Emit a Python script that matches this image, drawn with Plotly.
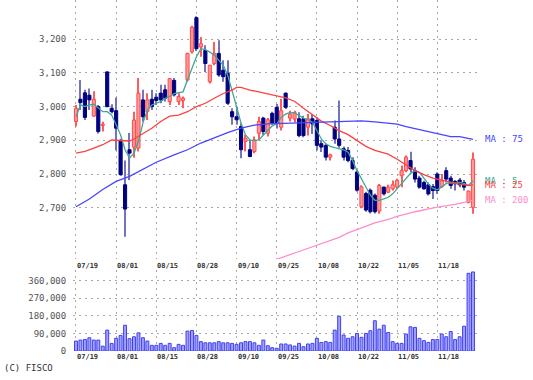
import plotly.graph_objects as go

# ---------------- data ----------------
date_labels = ["07/19", "08/01", "08/15", "08/28", "09/10", "09/25", "10/08", "10/22", "11/05", "11/18"]
label_step = 9

opens = [2956, 3022, 3041, 3034, 2972, 3000, 2944, 3103, 2995, 2988,
         2900, 2768, 2872, 2880, 2877, 3020, 2985, 3022, 3028, 3040,
         3050, 3015, 3078, 3015, 3018, 3079, 3163, 3264, 3177, 3167,
         3074, 3128, 3158, 3108, 3099, 2985, 2970, 2941, 2897, 2872,
         2867, 2921, 2966, 2921, 2980, 2998, 2939, 3040, 2966, 2963,
         2964, 2964, 2939, 2964, 2959, 2890, 2885, 2850, 2939, 2904,
         2875, 2870, 2840, 2806, 2703, 2742, 2752, 2737, 2690, 2761,
         2746, 2756, 2761, 2795, 2810, 2840, 2810, 2788, 2775, 2768,
         2763, 2800, 2763, 2810, 2788, 2778, 2782, 2775, 2716, 2701]
highs = [3005, 3079, 3050, 3054, 3046, 3005, 2955, 3105, 3007, 3027,
         2905, 2840, 2922, 2985, 3085, 3050, 3040, 3050, 3040, 3065,
         3065, 3085, 3085, 3040, 3030, 3160, 3240, 3268, 3207, 3182,
         3123, 3192, 3197, 3138, 3138, 2995, 3000, 2951, 2916, 2901,
         2911, 2970, 2970, 2966, 2985, 3008, 3023, 3042, 2988, 2988,
         2983, 2973, 2978, 2978, 2968, 2900, 2890, 2860, 2959, 3018,
         2882, 2880, 2850, 2811, 2767, 2747, 2757, 2742, 2770, 2763,
         2768, 2781, 2786, 2825, 2855, 2866, 2820, 2795, 2780, 2775,
         2770, 2805, 2800, 2820, 2795, 2782, 2788, 2782, 2751, 2864]
lows = [2941, 2990, 2960, 2990, 2970, 2920, 2926, 2998, 2980, 2870,
        2795, 2614, 2782, 2848, 2867, 2955, 2960, 2990, 3005, 3010,
        3015, 3005, 3030, 3005, 2995, 3074, 3158, 3165, 3148, 3103,
        3069, 3123, 3089, 3074, 3005, 2946, 2946, 2847, 2867, 2850,
        2862, 2901, 2916, 2911, 2946, 2935, 2929, 2993, 2956, 2954,
        2909, 2909, 2914, 2919, 2870, 2865, 2840, 2840, 2890, 2878,
        2840, 2835, 2811, 2747, 2698, 2688, 2683, 2683, 2682, 2736,
        2743, 2751, 2756, 2761, 2805, 2805, 2775, 2756, 2753, 2736,
        2726, 2741, 2760, 2775, 2756, 2751, 2761, 2751, 2713, 2682]
closes = [2995, 3012, 2968, 3020, 3022, 2926, 2948, 3000, 2985, 2936,
          2798, 2696, 2862, 2960, 3040, 2970, 3020, 3000, 3018, 3020,
          3025, 3083, 3035, 3030, 3025, 3158, 3236, 3172, 3187, 3128,
          3123, 3158, 3094, 3089, 3010, 2970, 2961, 2872, 2906, 2852,
          2901, 2956, 2926, 2961, 2951, 2950, 2988, 2998, 2978, 2983,
          2914, 2914, 2964, 2949, 2885, 2880, 2850, 2857, 2904, 2885,
          2850, 2840, 2816, 2752, 2762, 2693, 2688, 2688, 2766, 2741,
          2761, 2768, 2781, 2810, 2850, 2815, 2785, 2761, 2756, 2741,
          2751, 2751, 2780, 2785, 2766, 2771, 2768, 2761, 2749, 2844]
volumes = [51000, 56000, 59000, 68000, 56000, 56000, 25000, 107000, 39000, 65000,
           80000, 132000, 63000, 73000, 93000, 68000, 51000, 29000, 29000, 39000,
           29000, 39000, 17000, 34000, 29000, 102000, 105000, 80000, 48000, 42000,
           42000, 42000, 48000, 42000, 42000, 39000, 34000, 42000, 48000, 48000,
           42000, 29000, 56000, 27000, 17000, 14000, 36000, 36000, 31000, 25000,
           39000, 22000, 36000, 39000, 65000, 44000, 48000, 44000, 107000, 178000,
           82000, 65000, 73000, 90000, 70000, 90000, 104000, 155000, 112000, 132000,
           95000, 48000, 39000, 39000, 87000, 124000, 121000, 65000, 53000, 44000,
           59000, 59000, 87000, 73000, 100000, 59000, 73000, 127000, 398000, 405000]

ma5 = [2970, 3005, 3000, 3005, 3007, 2995, 2985, 2985, 2975, 2946,
       2916, 2872, 2847, 2862, 2897, 2951, 2990, 3005, 3010, 3015,
       3025, 3030, 3039, 3041, 3044, 3079, 3113, 3148, 3172, 3169,
       3162, 3153, 3138, 3123, 3094, 3049, 3000, 2951, 2916, 2901,
       2899, 2901, 2916, 2931, 2943, 2949, 2968, 2978, 2983, 2981,
       2973, 2966, 2961, 2954, 2929, 2904, 2890, 2882, 2878, 2875,
       2872, 2865, 2840, 2810, 2785, 2762, 2737, 2722, 2722, 2726,
       2731, 2741, 2756, 2770, 2785, 2802, 2810, 2805, 2788, 2770,
       2758, 2753, 2761, 2772, 2774, 2773, 2775, 2772, 2766, 2780]

ma25_idx = [0, 2, 4, 6, 8, 10, 12, 13, 15, 17, 19, 21, 23, 25, 27, 29, 31, 33, 35, 36,
            37, 39, 41, 43, 45, 47, 49, 51, 53, 55, 57, 59, 61, 63, 65, 67, 70, 72, 74, 76,
            78, 80, 82, 84, 86, 88, 89]
ma25_val = [2862, 2867, 2877, 2887, 2901, 2900, 2898, 2904, 2921, 2936, 2956, 2972, 2975, 2985, 3000, 3010, 3025, 3039, 3049, 3057,
            3057, 3049, 3044, 3039, 3032, 3026, 3016, 2995, 2975, 2957, 2944, 2929, 2917, 2899, 2882, 2870, 2859, 2844, 2828, 2810,
            2798, 2788, 2782, 2775, 2770, 2766, 2768]

ma75_idx = [0, 3, 6, 9, 12, 15, 18, 22, 25, 28, 31, 34, 37, 40, 43, 45, 50, 55, 60, 64,
            67, 70, 72, 74, 76, 78, 80, 82, 84, 86, 88, 89]
ma75_val = [2703, 2726, 2754, 2778, 2793, 2813, 2835, 2857, 2872, 2892, 2908, 2923, 2936, 2945, 2949, 2950, 2952, 2954, 2957, 2958,
            2955, 2951, 2948, 2941, 2935, 2930, 2923, 2916, 2911, 2911, 2906, 2903]

ma200_idx = [44, 45, 50, 55, 59, 61, 64, 67, 70, 72, 76, 81, 85, 88, 89]
ma200_val = [2540, 2547, 2570, 2594, 2612, 2625, 2640, 2655, 2665, 2674, 2688, 2702, 2710, 2718, 2722]

ma_names = ["MA : 5", "MA : 25", "MA : 75", "MA : 200"]
price_ticks = [2700, 2800, 2900, 3000, 3100, 3200]
vol_ticks = [0, 90000, 180000, 270000, 360000]

# ---------------- styling ----------------
W, H = 533, 380
ML, MR = 73, 56
MONO = "DejaVu Sans Mono"
GRID = "#a8a8a8"
DASH = "2px,4px"

UP_FILL, UP_LINE, UP_WICK = "#ff9a9a", "#ff4a4a", "#ff5c5c"
DN_FILL, DN_LINE, DN_WICK = "#000080", "#000080", "#7474bc"
MA_COLORS = ["#3fa796", "#ff4040", "#4646ff", "#ff8ccc"]

n = len(closes)
xs = list(range(n))
is_up = [c >= o for o, c in zip(opens, closes)]

fig = go.Figure()

# wicks
fig.add_trace(go.Bar(
    x=xs, y=[h - l for h, l in zip(highs, lows)], base=lows, width=0.24,
    marker=dict(color=[UP_WICK if u else DN_WICK for u in is_up], line=dict(width=0)),
    xaxis="x", yaxis="y", hoverinfo="skip"))
# bodies
fig.add_trace(go.Bar(
    x=xs, y=[max(abs(c - o), 2) for o, c in zip(opens, closes)],
    base=[min(o, c) for o, c in zip(opens, closes)], width=0.7,
    marker=dict(color=[UP_FILL if u else DN_FILL for u in is_up],
                line=dict(color=[UP_LINE if u else DN_LINE for u in is_up], width=1)),
    xaxis="x", yaxis="y", hoverinfo="skip"))

ma_series = [(xs, ma5), (ma25_idx, ma25_val), (ma75_idx, ma75_val), (ma200_idx, ma200_val)]
for (mx, my), col in zip(ma_series, MA_COLORS):
    fig.add_trace(go.Scatter(x=mx, y=my, mode="lines", line=dict(color=col, width=1.3),
                             xaxis="x", yaxis="y", hoverinfo="skip"))

# volume
fig.add_trace(go.Bar(
    x=xs, y=volumes, width=0.66,
    marker=dict(color="#a0a0ff", line=dict(color="#4040f0", width=1)),
    xaxis="x2", yaxis="y2", hoverinfo="skip"))

# ---------------- layout ----------------
def py(px):
    return 1 - px / H

xrange_ = [-0.67, 89.9]
tick_pos = [k * label_step for k in range(len(date_labels))]

axis_common = dict(range=xrange_, tickvals=tick_pos, showticklabels=False, showgrid=True,
                   gridcolor=GRID, griddash=DASH, gridwidth=1, zeroline=False, showline=False,
                   ticks="")
fig.update_layout(
    width=W, height=H, margin=dict(l=ML, r=MR, t=0, b=0),
    paper_bgcolor="white", plot_bgcolor="white", showlegend=False,
    barmode="overlay",
    xaxis=dict(domain=[0, 1], anchor="y", **axis_common),
    xaxis2=dict(domain=[0, 1], anchor="y2", **axis_common),
    yaxis=dict(domain=[py(259), py(0)], range=[2547.7, 3316.6], tickvals=price_ticks,
               tickformat=",", showgrid=True, gridcolor=GRID, griddash=DASH, zeroline=False,
               showline=False, ticks="outside", ticklen=4, tickcolor="rgba(0,0,0,0)",
               automargin=False,
               tickfont=dict(family=MONO, size=9, color="#555555")),
    yaxis2=dict(domain=[py(351), py(270)], range=[0, 415000], tickvals=vol_ticks,
                tickformat=",", showgrid=True, gridcolor=GRID, griddash=DASH, zeroline=False,
                showline=False, ticks="outside", ticklen=4, tickcolor="rgba(0,0,0,0)",
                automargin=False,
                tickfont=dict(family=MONO, size=9, color="#555555")),
)

annotations = []
for pos, lab in zip(tick_pos, date_labels):
    for ypix in (266, 357):
        annotations.append(dict(x=pos, xref="x", y=py(ypix), yref="paper", text=lab,
                                showarrow=False, xanchor="left", yanchor="middle", xshift=-1,
                                font=dict(family=MONO, size=7, color="#333333", weight="bold")))

last_vals = [ma5[-1], ma25_val[-1], ma75_val[-1], ma200_val[-1]]
for name, val, col in zip(ma_names, last_vals, MA_COLORS):
    annotations.append(dict(x=1, xref="paper", y=val, yref="y", text=name, showarrow=False,
                            xanchor="left", yanchor="middle", xshift=6,
                            font=dict(family=MONO, size=9, color=col)))

annotations.append(dict(x=0, xref="paper", y=py(368), yref="paper", text="(C) FISCO",
                        showarrow=False, xanchor="left", yanchor="middle", xshift=-ML + 2,
                        font=dict(family=MONO, size=9, color="#333333")))
fig.update_layout(annotations=annotations)

fig.write_html("out.html", post_script="document.body.style.margin='0';",
               config={"displayModeBar": False})
